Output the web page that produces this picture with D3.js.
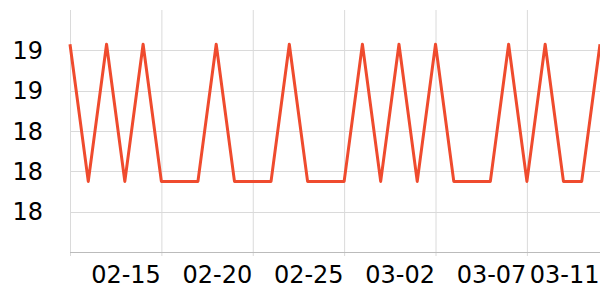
<!DOCTYPE html>
<html>
<head>
<meta charset="utf-8">
<script src="https://cdn.jsdelivr.net/npm/d3@7"></script>
<style>
  body { margin: 0; background: #fff; }
  text { font-family: "DejaVu Sans", sans-serif; }
</style>
</head>
<body>
<script>
const dates = [
  "02-10", "02-11", "02-12", "02-13", "02-14", "02-15", "02-16", "02-17", "02-18", "02-19",
  "02-20", "02-21", "02-22", "02-23", "02-24", "02-25", "02-26", "02-27", "02-28", "03-01",
  "03-02", "03-03", "03-04", "03-05", "03-06", "03-07", "03-08", "03-09", "03-10", "03-11"
];
const values = [
  18.83, 18.15, 18.83, 18.15, 18.83, 18.15, 18.15, 18.15, 18.83, 18.15,
  18.15, 18.15, 18.83, 18.15, 18.15, 18.15, 18.83, 18.15, 18.83, 18.15,
  18.83, 18.15, 18.15, 18.15, 18.83, 18.15, 18.83, 18.15, 18.15, 18.83
];
const xTickLabels = ["02-15", "02-20", "02-25", "03-02", "03-07", "03-11"];
const yTicks = [18.0, 18.2, 18.4, 18.6, 18.8];

const width = 600;
const height = 300;
const margin = { top: 10, right: 0, bottom: 48, left: 70 };

const parse = d3.timeParse("%Y-%m-%d");
const data = dates.map((d, i) => ({ date: parse("2023-" + d), value: values[i] }));

const svg = d3
  .select("body")
  .append("svg")
  .attr("width", width)
  .attr("height", height);

const x = d3
  .scaleTime()
  .domain(d3.extent(data, (d) => d.date))
  .range([margin.left, width - margin.right]);

const y = d3
  .scaleLinear()
  .domain([17.8, 19.0])
  .range([height - margin.bottom, margin.top]);

// grid
const gridX = xTickLabels.slice(0, -1).map((d) => parse("2023-" + d));
svg
  .append("g")
  .selectAll("line")
  .data([x.domain()[0]].concat(gridX))
  .enter()
  .append("line")
  .attr("x1", (d) => x(d) + 0.5)
  .attr("x2", (d) => x(d) + 0.5)
  .attr("y1", margin.top)
  .attr("y2", height - margin.bottom + 4)
  .attr("stroke", "#dadada");

svg
  .append("g")
  .selectAll("line")
  .data(yTicks)
  .enter()
  .append("line")
  .attr("x1", margin.left)
  .attr("x2", width)
  .attr("y1", (d) => Math.round(y(d)) + 0.5)
  .attr("y2", (d) => Math.round(y(d)) + 0.5)
  .attr("stroke", "#dadada");

// bottom axis line
svg
  .append("line")
  .attr("x1", margin.left)
  .attr("x2", width)
  .attr("y1", height - margin.bottom + 0.5)
  .attr("y2", height - margin.bottom + 0.5)
  .attr("stroke", "#bbbbbb");

// y labels
svg
  .append("g")
  .selectAll("text")
  .data(yTicks)
  .enter()
  .append("text")
  .attr("x", 43)
  .attr("y", (d) => y(d))
  .attr("dy", "0.36em")
  .attr("text-anchor", "end")
  .attr("font-size", 24)
  .attr("fill", "#000")
  .text((d) => d3.format(".0f")(d));

// x labels
svg
  .append("g")
  .selectAll("text")
  .data(xTickLabels)
  .enter()
  .append("text")
  .attr("x", (d) => x(parse("2023-" + d)) - 0.5)
  .attr("y", 274)
  .attr("dy", "0.36em")
  .attr("text-anchor", "end")
  .attr("font-size", 24)
  .attr("fill", "#000")
  .text((d) => d);

// line
const line = d3
  .line()
  .x((d) => x(d.date))
  .y((d) => y(d.value));

svg
  .append("path")
  .datum(data)
  .attr("d", line)
  .attr("fill", "none")
  .attr("stroke", "#ef4b2e")
  .attr("stroke-width", 3)
  .attr("stroke-linejoin", "round");
</script>
</body>
</html>
